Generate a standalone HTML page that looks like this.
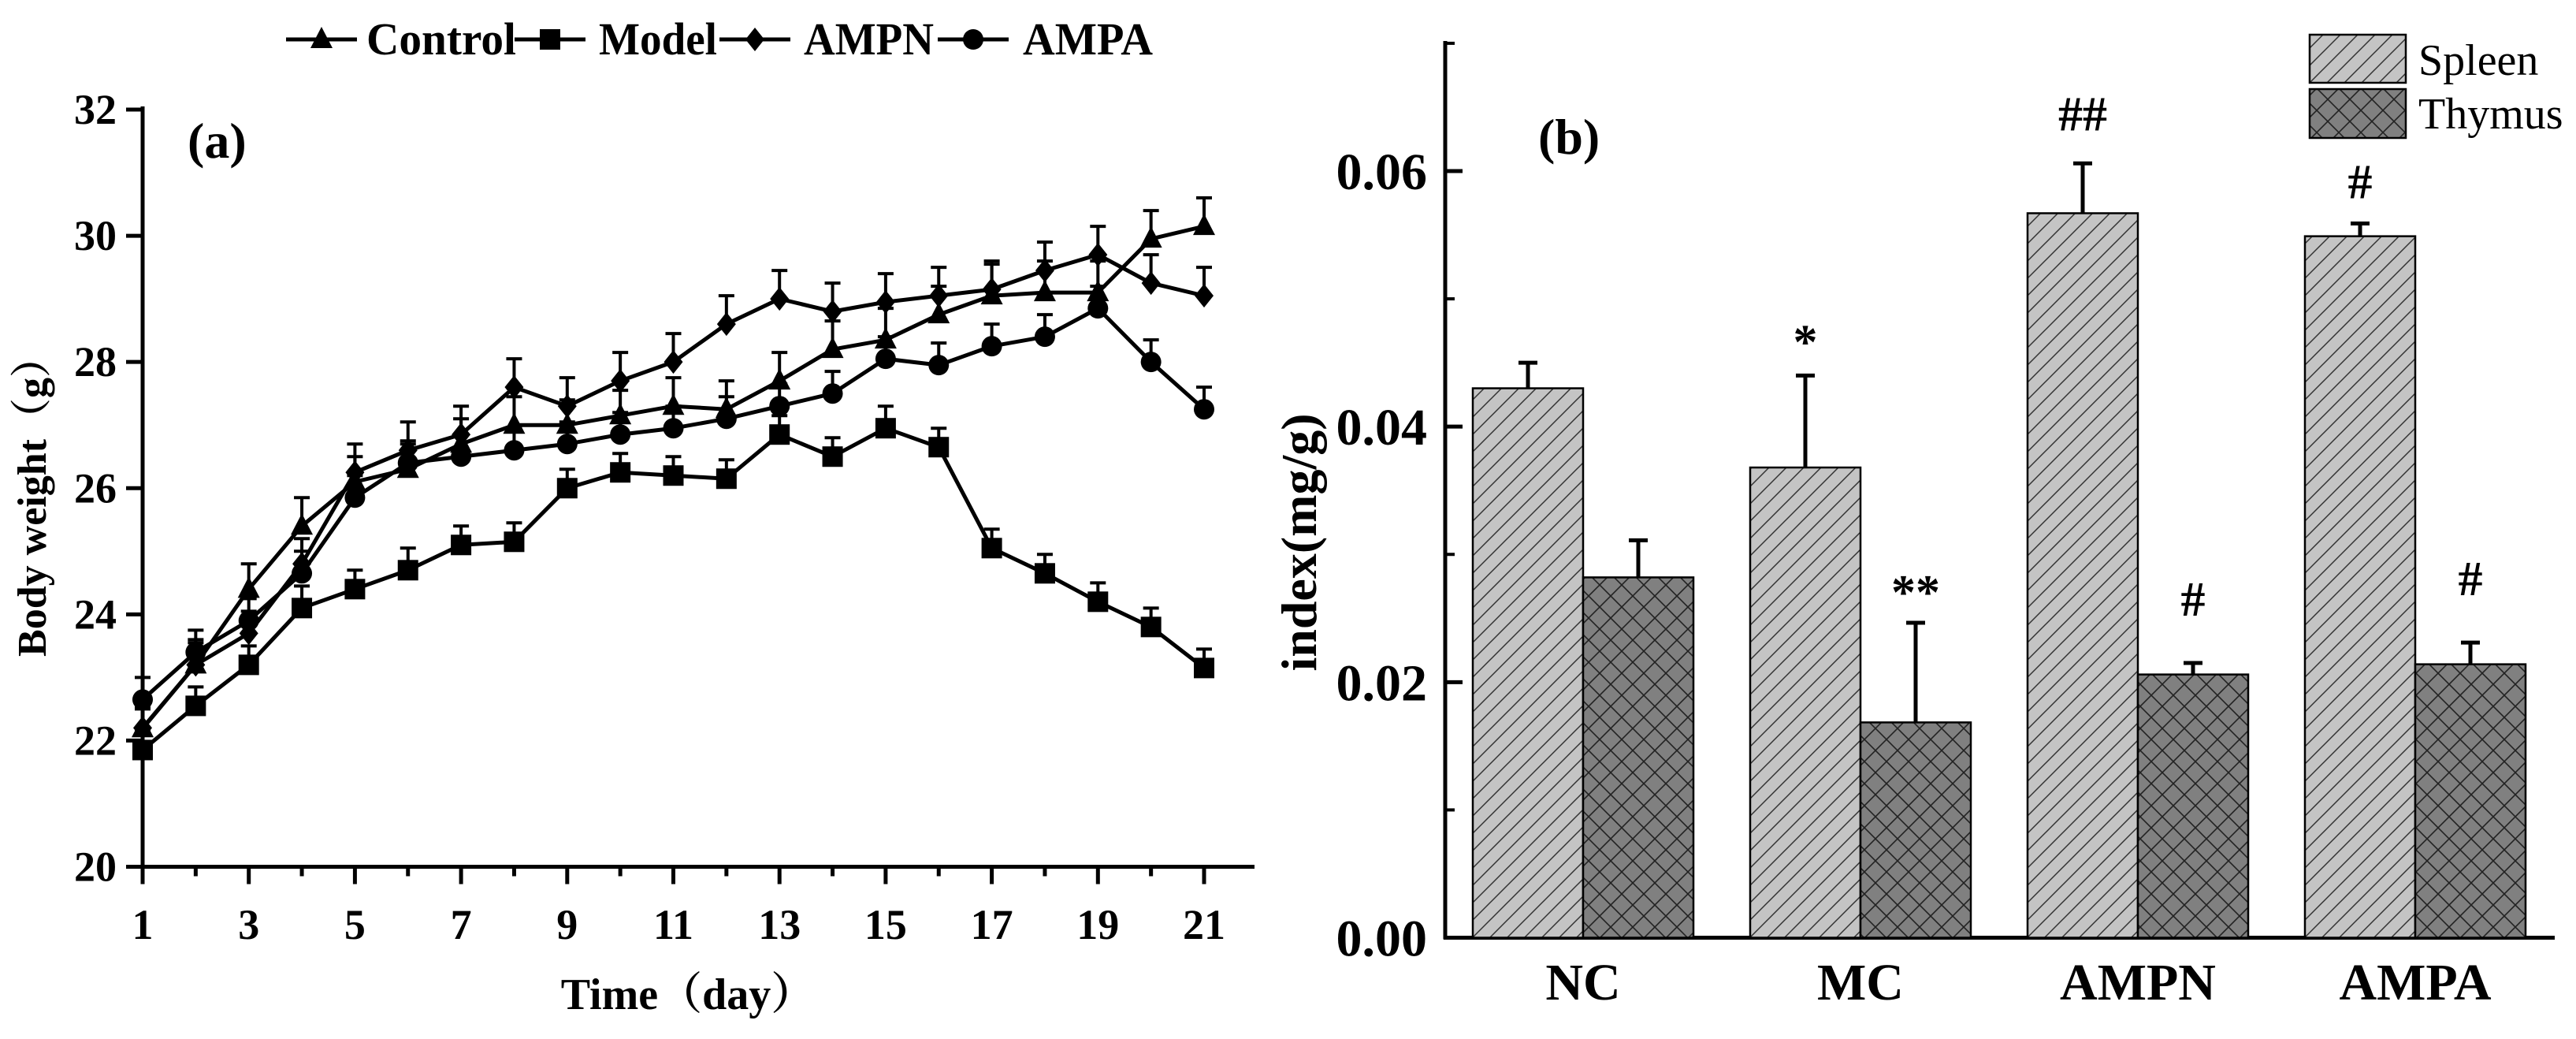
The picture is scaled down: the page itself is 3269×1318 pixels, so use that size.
<!DOCTYPE html>
<html><head><meta charset="utf-8">
<style>
html,body{margin:0;padding:0;background:#fff;}
svg{display:block;}
text{font-family:"Liberation Serif","Noto Serif CJK SC",serif;}
</style></head>
<body>
<svg id="fig" width="3269" height="1318" viewBox="0 0 3269 1318" xmlns="http://www.w3.org/2000/svg">
<defs>
<pattern id="diag" patternUnits="userSpaceOnUse" width="22" height="22">
<rect width="22" height="22" fill="#c4c4c4"/>
<path d="M-2,24 L24,-2 M-13,13 L13,-13 M9,35 L35,9" stroke="#333" stroke-width="1.5"/>
</pattern>
<pattern id="cross" patternUnits="userSpaceOnUse" width="28" height="28">
<rect width="28" height="28" fill="#808080"/>
<path d="M0,0 L28,28 M28,0 L0,28" stroke="#222" stroke-width="1.6"/>
</pattern>
</defs>
<g id="left"></g>
<g id="right"></g>
</svg>
<script>
// ---- Chart (a) data ----
const days = [1,2,3,4,5,6,7,8,9,10,11,12,13,14,15,16,17,18,19,20,21];
const controlVals = [22.19,23.2,24.4,25.4,26.1,26.3,26.7,27.0,27.0,27.15,27.3,27.25,27.7,28.2,28.35,28.75,29.05,29.1,29.1,29.95,30.15];
const controlErr  = [0.35,0.4,0.4,0.45,0.4,0.4,0.4,0.45,0.4,0.4,0.45,0.45,0.45,0.45,0.5,0.45,0.5,0.5,0.5,0.45,0.45];
const modelVals   = [21.85,22.55,23.2,24.1,24.4,24.7,25.1,25.15,26.0,26.25,26.2,26.15,26.85,26.5,26.95,26.65,25.05,24.65,24.2,23.8,23.15];
const modelErr    = [0.3,0.3,0.3,0.35,0.3,0.35,0.3,0.3,0.3,0.3,0.3,0.3,0.3,0.3,0.35,0.3,0.3,0.3,0.3,0.3,0.3];
const ampnVals    = [22.2,23.2,23.7,24.8,26.25,26.6,26.85,27.6,27.3,27.7,28.0,28.6,29.0,28.8,28.95,29.05,29.15,29.45,29.7,29.25,29.05];
const ampnErr     = [0.3,0.35,0.35,0.4,0.45,0.45,0.45,0.45,0.45,0.45,0.45,0.45,0.45,0.45,0.45,0.45,0.45,0.45,0.45,0.45,0.45];
const ampaVals    = [22.65,23.4,23.9,24.65,25.85,26.4,26.5,26.6,26.7,26.85,26.95,27.1,27.3,27.5,28.05,27.95,28.25,28.4,28.85,28.0,27.25];
const ampaErr     = [0.35,0.35,0.35,0.35,0.35,0.35,0.35,0.35,0.35,0.35,0.35,0.35,0.35,0.35,0.35,0.35,0.35,0.35,0.35,0.35,0.35];
const yTicksA = [20,22,24,26,28,30,32];
const xTicksA = [1,3,5,7,9,11,13,15,17,19,21];

// ---- Chart (b) data ----
const groups = ["NC","MC","AMPN","AMPA"];
const spleenVals = [0.0430,0.0368,0.0567,0.0549];
const spleenErr  = [0.0020,0.0072,0.0039,0.0010];
const thymusVals = [0.0282,0.01685,0.0206,0.0214];
const thymusErr  = [0.0029,0.0078,0.0009,0.0017];
const spleenMarks = ["","*","##","#"];
const thymusMarks = ["","**","#","#"];
const yTicksB = [0,0.02,0.04,0.06];
const yTickLabelsB = ["0.00","0.02","0.04","0.06"];

const NS = "http://www.w3.org/2000/svg";
function mk(parent, tag, attrs, txt){
  const e = document.createElementNS(NS, tag);
  for (const k in attrs) e.setAttribute(k, attrs[k]);
  if (txt !== undefined) e.textContent = txt;
  parent.appendChild(e);
  return e;
}

// ===== Chart (a) =====
const L = document.getElementById('left');
const xA = d => 181 + (d - 1) * (1528 - 181) / 20;
const yA = v => 1099.5 - (v - 20) * (1099.5 - 139) / 12;

let e;
e = mk(L,'line',{x1:181,y1:135,x2:181,y2:1110,stroke:'#000','stroke-width':5});
 
e = mk(L,'line',{x1:179,y1:yA(20),x2:1592,y2:yA(20),stroke:'#000','stroke-width':5});
 

yTicksA.forEach(t=>{
  e = mk(L,'line',{x1:160,y1:yA(t),x2:181,y2:yA(t),stroke:'#000','stroke-width':5});
   
  e = mk(L,'text',{x:148,y:yA(t)+18,'text-anchor':'end','font-size':54,'font-weight':'bold'},String(t));
   
});
days.forEach(d=>{
  const big = xTicksA.includes(d);
  e = mk(L,'line',{x1:xA(d),y1:yA(20),x2:xA(d),y2:yA(20)+(big?22:12),stroke:'#000','stroke-width':5});
   
});
xTicksA.forEach(d=>{
  e = mk(L,'text',{x:xA(d),y:1191,'text-anchor':'middle','font-size':54,'font-weight':'bold'},String(d));
   
});
e = mk(L,'text',{x:873,y:1280,'text-anchor':'middle','font-size':56,'font-weight':'bold'},'Time（day）');
 
e = mk(L,'text',{x:0,y:0,'text-anchor':'middle','font-size':52,'font-weight':'bold',transform:'translate(58,630) rotate(-90)'},'Body weight（g）');
 
e = mk(L,'text',{x:238,y:200,'font-size':64,'font-weight':'bold'},'(a)');
 

function marker(g, type, cx, cy){
  let m;
  if (type==='tri') m = mk(g,'polygon',{points:`${cx},${cy-16} ${cx-14},${cy+11} ${cx+14},${cy+11}`,fill:'#000'});
  else if (type==='sq') m = mk(g,'rect',{x:cx-13,y:cy-13,width:26,height:26,fill:'#000'});
  else if (type==='dia') m = mk(g,'polygon',{points:`${cx},${cy-15} ${cx+12},${cy} ${cx},${cy+15} ${cx-12},${cy}`,fill:'#000'});
  else m = mk(g,'circle',{cx:cx,cy:cy,r:13,fill:'#000'});
  return m;
}
const seriesA = [
  {name:'control',vals:controlVals,err:controlErr,m:'tri'},
  {name:'model',vals:modelVals,err:modelErr,m:'sq'},
  {name:'ampn',vals:ampnVals,err:ampnErr,m:'dia'},
  {name:'ampa',vals:ampaVals,err:ampaErr,m:'circ'}
];
seriesA.forEach(s=>{
  const g = mk(L,'g',{});
   
  s.vals.forEach((v,i)=>{
    const x=xA(days[i]), y=yA(v), yt=yA(v+s.err[i]);
    e = mk(g,'path',{d:`M${x},${y} L${x},${yt} M${x-10},${yt} L${x+10},${yt}`,stroke:'#000','stroke-width':4,fill:'none'});
     
  });
  const pts = s.vals.map((v,i)=>xA(days[i])+','+yA(v)).join(' ');
  e = mk(g,'polyline',{points:pts,fill:'none',stroke:'#000','stroke-width':5,'stroke-linejoin':'round'});
   
  s.vals.forEach((v,i)=>{
    e = marker(g,s.m,xA(days[i]),yA(v));
     
  });
});
// legend (a)
const legA = mk(L,'g',{});
 
const legItems = [
  {label:'Control',m:'tri',x:363,tx:465,w:190},
  {label:'Model',m:'sq',x:653,tx:760,w:150},
  {label:'AMPN',m:'dia',x:913,tx:1020,w:165},
  {label:'AMPA',m:'circ',x:1190,tx:1298,w:165}
];
legItems.forEach(it=>{
  const g = mk(legA,'g',{});
   
  mk(g,'line',{x1:it.x,y1:50,x2:it.x+90,y2:50,stroke:'#000','stroke-width':5});
  marker(g,it.m,it.x+45,50);
  e = mk(g,'text',{x:it.tx,y:69,'font-size':58,'font-weight':'bold',textLength:it.w,lengthAdjust:'spacingAndGlyphs'},it.label);
   
});

// ===== Chart (b) =====
const R = document.getElementById('right');
const y0B = 1189.5, pxPerUnit = (1189.5-217)/0.06;
const yB = v => y0B - v*pxPerUnit;
const groupX = i => 2009 + i*352;
const barW = 140;

e = mk(R,'line',{x1:1834,y1:52,x2:1834,y2:y0B+2,stroke:'#000','stroke-width':5});
 
e = mk(R,'line',{x1:1832,y1:y0B,x2:3242,y2:y0B,stroke:'#000','stroke-width':5});
 
[0.01,0.03,0.05,0.07].forEach(t=>{
  e = mk(R,'line',{x1:1834,y1:yB(t),x2:1846,y2:yB(t),stroke:'#000','stroke-width':4});
   
});
yTicksB.forEach((t,i)=>{
  e = mk(R,'line',{x1:1834,y1:yB(t),x2:1856,y2:yB(t),stroke:'#000','stroke-width':5});
   
  e = mk(R,'text',{x:1811,y:yB(t)+23,'text-anchor':'end','font-size':66,'font-weight':'bold'},yTickLabelsB[i]);
   
});
e = mk(R,'text',{x:0,y:0,'text-anchor':'middle','font-size':64,'font-weight':'bold',transform:'translate(1670,688) rotate(-90)'},'index(mg/g)');
 
e = mk(R,'text',{x:1952,y:195,'font-size':64,'font-weight':'bold'},'(b)');
 

function errB(g,cx,v,er){
  const yt=yB(v+er);
  e = mk(g,'path',{d:`M${cx},${yB(v)} L${cx},${yt} M${cx-12},${yt} L${cx+12},${yt}`,stroke:'#000','stroke-width':5,fill:'none'});
   
}
groups.forEach((gname,i)=>{
  const cx = groupX(i);
  const g = mk(R,'g',{});
   
  e = mk(g,'rect',{x:cx-barW,y:yB(spleenVals[i]),width:barW,height:yB(0)-yB(spleenVals[i]),fill:'url(#diag)',stroke:'#000','stroke-width':2.5});
   
  e = mk(g,'rect',{x:cx,y:yB(thymusVals[i]),width:barW,height:yB(0)-yB(thymusVals[i]),fill:'url(#cross)',stroke:'#000','stroke-width':2.5});
   
  errB(g,cx-barW/2,spleenVals[i],spleenErr[i]);
  errB(g,cx+barW/2,thymusVals[i],thymusErr[i]);
  if (spleenMarks[i]) {
    const off = spleenMarks[i].startsWith('*') ? 22 : (spleenMarks[i]==='##' ? 42 : 32);
    e = mk(g,'text',{x:cx-barW/2,y:yB(spleenVals[i]+spleenErr[i])-off,'text-anchor':'middle','font-size':62,'font-weight':'bold'},spleenMarks[i]);
     
  }
  if (thymusMarks[i]) {
    const off = thymusMarks[i].startsWith('*') ? 18 : 60;
    e = mk(g,'text',{x:cx+barW/2,y:yB(thymusVals[i]+thymusErr[i])-off,'text-anchor':'middle','font-size':62,'font-weight':'bold'},thymusMarks[i]);
     
  }
  e = mk(g,'text',{x:cx,y:1268,'text-anchor':'middle','font-size':66,'font-weight':'bold'},gname);
   
});
// legend (b)
const legB = mk(R,'g',{});
 
e = mk(legB,'rect',{x:2931,y:44,width:122,height:61,fill:'url(#diag)',stroke:'#000','stroke-width':2.5});
 
e = mk(legB,'text',{x:3069,y:95,'font-size':56},'Spleen');
 
e = mk(legB,'rect',{x:2931,y:113,width:122,height:62,fill:'url(#cross)',stroke:'#000','stroke-width':2.5});
 
e = mk(legB,'text',{x:3069,y:163,'font-size':56},'Thymus');
 
</script>
</body></html>
